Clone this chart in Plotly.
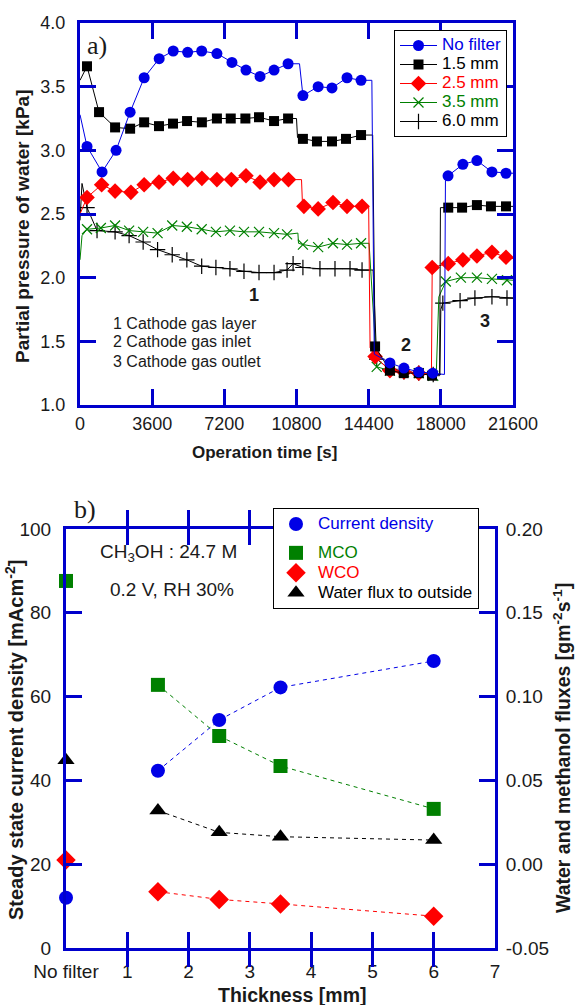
import plotly.graph_objects as go

# ---------------- Panel a) data ----------------
nf_t = [350, 1100, 1800, 2500, 3200, 3950, 4650, 5370, 6070, 6830, 7580, 8280, 8980, 9680, 10380,
        11120, 11880, 12570, 13320, 14020, 15460, 16160, 16900, 17600, 18360, 19100, 19800, 20550, 21250]
nf_p = [3.03, 2.83, 3.00, 3.30, 3.57, 3.72, 3.78, 3.77, 3.78, 3.76, 3.69, 3.63, 3.58, 3.63, 3.68,
        3.43, 3.50, 3.49, 3.57, 3.55, 1.33, 1.29, 1.26, 1.25, 2.80, 2.89, 2.92, 2.83, 2.82]
nf_vt = [0, 10950, 14560, 14680, 18180, 18230, 21600]
nf_vp = [3.28, 3.68, 3.55, 1.40, 1.24, 2.76, 2.82]

f15_t = [350, 950, 1750, 2500, 3200, 3940, 4640, 5340, 6080, 6830, 7520, 8250, 8930, 9680, 10380,
         11120, 11820, 12570, 13270, 14020, 14720, 15460, 16150, 16900, 17560, 18370, 19060, 19800, 20500, 21250]
f15_p = [3.66, 3.30, 3.18, 3.17, 3.22, 3.19, 3.21, 3.23, 3.22, 3.25, 3.25, 3.25, 3.26, 3.23, 3.25,
         3.09, 3.07, 3.07, 3.09, 3.12, 1.46, 1.27, 1.25, 1.25, 1.23, 2.55, 2.55, 2.57, 2.56, 2.56]
f15_vt = [0, 10800, 10850, 14600, 17940, 17980, 21600]
f15_vp = [3.55, 3.25, 3.10, 3.12, 1.23, 2.55, 2.56]

f25_t = [350, 1080, 1750, 2540, 3200, 3940, 4650, 5370, 6080, 6830, 7550, 8280, 8980, 9680, 10400,
         11170, 11880, 12620, 13320, 14070, 14720, 15460, 16160, 16900, 17570, 18370, 19100, 19800, 20550, 21250]
f25_p = [2.63, 2.73, 2.68, 2.67, 2.73, 2.75, 2.78, 2.77, 2.78, 2.77, 2.77, 2.80, 2.75, 2.77, 2.77,
         2.56, 2.54, 2.59, 2.56, 2.56, 1.38, 1.27, 1.26, 1.25, 2.08, 2.11, 2.14, 2.17, 2.20, 2.16]
f25_vt = [0, 11050, 11100, 14400, 14470, 17530, 21600]
f25_vp = [2.50, 2.77, 2.57, 2.56, 1.45, 1.24, 2.15]

f35_t = [350, 1040, 1750, 2450, 3150, 3870, 4600, 5330, 6070, 6780, 7480, 8180, 8930, 9680, 10330,
         11120, 11880, 12620, 13320, 14020, 14800, 15460, 16160, 16900, 17620, 18250, 19000, 19800, 20550, 21300]
f35_p = [2.38, 2.39, 2.41, 2.37, 2.36, 2.35, 2.41, 2.40, 2.38, 2.36, 2.37, 2.36, 2.36, 2.35, 2.34,
         2.26, 2.24, 2.27, 2.26, 2.27, 1.30, 1.27, 1.26, 1.25, 1.23, 1.97, 2.00, 2.00, 1.99, 1.98]
f35_vt = [0, 100, 10870, 10900, 14420, 17780, 17900, 21600]
f35_vp = [2.14, 2.33, 2.35, 2.27, 2.27, 1.28, 1.85, 1.98]

f60_t = [350, 850, 1750, 2450, 3150, 3870, 4600, 5330, 6070, 6780, 7480, 8180, 8930, 9680, 10330,
         10630, 11120, 11970, 12720, 13470, 14070, 14800, 15460, 16160, 16900, 17620, 18100, 18960, 19700, 20550, 21300]
f60_p = [2.55, 2.37, 2.36, 2.33, 2.28, 2.22, 2.18, 2.14, 2.09, 2.08, 2.07, 2.05, 2.04, 2.04, 2.06,
         2.11, 2.08, 2.07, 2.07, 2.07, 2.06, 1.36, 1.28, 1.26, 1.25, 1.24, 1.80, 1.82, 1.84, 1.85, 1.84]
f60_vt = [0, 100, 14620, 17950, 18000, 21600]
f60_vp = [2.45, 2.74, 2.06, 1.24, 1.75, 1.84]

series_names = ["No filter", "1.5 mm", "2.5 mm", "3.5 mm", "6.0 mm"]
time_ticks = [0, 3600, 7200, 10800, 14400, 18000, 21600]
pressure_ticks = [1.0, 1.5, 2.0, 2.5, 3.0, 3.5, 4.0]

# ---------------- Panel b) data ----------------
thick = [0, 1.5, 2.5, 3.5, 6]
current_density = [12.0, 42.3, 54.4, 62.2, 68.5]
mco = [0.169, 0.107, 0.0765, 0.0586, 0.033]
wco = [0.0025, -0.0164, -0.021, -0.0237, -0.031]
water_flux = [0.062, 0.032, 0.019, 0.0164, 0.0144]
thick_ticks = [0, 1, 2, 3, 4, 5, 6, 7]
thick_labels = ["No filter", "1", "2", "3", "4", "5", "6", "7"]
cd_ticks = [0, 20, 40, 60, 80, 100]
flux_ticks = [-0.05, 0.0, 0.05, 0.10, 0.15, 0.20]

# ---------------- styling ----------------
W, H = 577, 1005
AX = "#0000CC"
BLUE = "#0000E6"
RED = "#FF0000"
GREEN = "#008000"
BLACK = "#000000"
FONT = "Liberation Sans, Arial, sans-serif"
TXT = "#1a1a1a"

def px_x(p):
    return p / W

def px_y(p):
    return 1 - p / H

fig = go.Figure()

styles = [
    (nf_t, nf_p, nf_vt, nf_vp, BLUE, dict(symbol="circle", size=11, color=BLUE)),
    (f15_t, f15_p, f15_vt, f15_vp, BLACK, dict(symbol="square", size=10, color=BLACK)),
    (f25_t, f25_p, f25_vt, f25_vp, RED, dict(symbol="diamond", size=12, color=RED)),
    (f35_t, f35_p, f35_vt, f35_vp, GREEN, dict(symbol="x-thin", size=10, color=GREEN, line=dict(color=GREEN, width=1.2))),
    (f60_t, f60_p, f60_vt, f60_vp, BLACK, dict(symbol="cross-thin", size=11, color=BLACK, line=dict(color=BLACK, width=1.2))),
]

for i in reversed(range(len(styles))):
    t, p, vt, vp, col, mk = styles[i]
    pts = sorted(list(zip(t, p)) + list(zip(vt, vp)))
    fig.add_trace(go.Scatter(x=[a for a, b in pts], y=[b for a, b in pts], mode="lines",
                             line=dict(color=col, width=1), showlegend=False, hoverinfo="skip",
                             xaxis="x", yaxis="y"))
    fig.add_trace(go.Scatter(x=t, y=p, mode="markers", marker=mk, showlegend=False,
                             cliponaxis=False, xaxis="x", yaxis="y"))

for i, (t, p, vt, vp, col, mk) in enumerate(styles):
    fig.add_trace(go.Scatter(x=[None], y=[None], mode="lines+markers",
                             name=f"<span style='color:{col};font-size:17px'>{series_names[i]}</span>",
                             line=dict(color=col, width=1), marker=mk, legend="legend",
                             xaxis="x", yaxis="y"))

def dashed(x, y, col, yax):
    fig.add_trace(go.Scatter(x=x, y=y, mode="lines", line=dict(color=col, width=1, dash="4px,4px"),
                             showlegend=False, hoverinfo="skip", xaxis="x2", yaxis=yax))

dashed(thick[1:], current_density[1:], BLUE, "y2")
dashed(thick[1:], mco[1:], GREEN, "y3")
dashed(thick[1:], wco[1:], RED, "y3")
dashed(thick[1:], water_flux[1:], BLACK, "y3")

def lname(text, col):
    return f"<span style='color:{col};font-size:17px'>{text}</span>"

fig.add_trace(go.Scatter(x=thick, y=current_density, mode="markers", cliponaxis=False,
                         marker=dict(symbol="circle", size=14, color=BLUE),
                         name=lname("Current density", BLUE),
                         legend="legend2", legendgroup="g1", xaxis="x2", yaxis="y2"))
fig.add_trace(go.Scatter(x=thick, y=mco, mode="markers", cliponaxis=False,
                         marker=dict(symbol="square", size=14, color=GREEN),
                         name=lname("MCO", GREEN),
                         legend="legend2", legendgroup="g2", xaxis="x2", yaxis="y3"))
fig.add_trace(go.Scatter(x=thick, y=wco, mode="markers", cliponaxis=False,
                         marker=dict(symbol="diamond", size=15, color=RED),
                         name=lname("WCO", RED),
                         legend="legend2", legendgroup="g2", xaxis="x2", yaxis="y3"))
fig.add_trace(go.Scatter(x=thick, y=water_flux, mode="markers", cliponaxis=False,
                         marker=dict(symbol="triangle-up", size=15, color=BLACK),
                         name=lname("Water flux to outside", "#000"),
                         legend="legend2", legendgroup="g2", xaxis="x2", yaxis="y3"))

def axis_style(fsize):
    return dict(showline=True, linecolor=AX, linewidth=3, ticks="inside", tickcolor=AX,
                tickwidth=3, ticklen=16, showgrid=False, zeroline=False, automargin=False,
                tickfont=dict(family=FONT, size=fsize, color=TXT))

fig.update_layout(
    template="none",
    width=W, height=H, margin=dict(l=0, r=0, t=0, b=0, pad=0, autoexpand=False),
    paper_bgcolor="white", plot_bgcolor="white",
    font=dict(family=FONT, color=TXT),
    xaxis=dict(domain=[px_x(80), px_x(513)], anchor="y", range=[0, 21600], tickvals=time_ticks,
               ticktext=[str(v) for v in time_ticks], mirror="allticks", **axis_style(18)),
    yaxis=dict(domain=[px_y(405), px_y(23)], anchor="x", range=[1.0, 4.0], tickvals=pressure_ticks,
               ticktext=[f"{v:.1f}" for v in pressure_ticks], mirror="allticks", ticklabelstandoff=8,
               **axis_style(18)),
    xaxis2=dict(domain=[px_x(66), px_x(495)], anchor="y2", range=[0, 7], tickvals=thick_ticks,
                ticktext=thick_labels, mirror="allticks", ticklabelstandoff=4, **axis_style(19)),
    yaxis2=dict(domain=[px_y(948), px_y(529)], anchor="x2", range=[0, 100], tickvals=cd_ticks,
                ticktext=[str(v) for v in cd_ticks], ticklabelstandoff=8, **axis_style(19)),
    yaxis3=dict(anchor="x2", overlaying="y2", side="right", range=[-0.05, 0.20],
                tickvals=flux_ticks, ticktext=[f"{v:.2f}" for v in flux_ticks],
                ticklabelstandoff=4, **axis_style(19)),
    legend=dict(x=px_x(394), y=px_y(30), xanchor="left", yanchor="top", bgcolor="white",
                bordercolor="black", borderwidth=1, font=dict(family=FONT, size=12),
                itemwidth=37, tracegroupgap=0),
    legend2=dict(x=px_x(273), y=px_y(508), xanchor="left", yanchor="top", bgcolor="white",
                 bordercolor="black", borderwidth=1, font=dict(family=FONT, size=13),
                 traceorder="grouped", tracegroupgap=9, itemwidth=34),
    showlegend=True,
)

ann = []
def add_text(text, x, y, size=15, bold=False, family=FONT, angle=0, xanchor="center", color=TXT):
    if bold:
        text = f"<b>{text}</b>"
    ann.append(dict(text=text, x=px_x(x), y=px_y(y), xref="paper", yref="paper",
                    xanchor=xanchor, yanchor="middle", showarrow=False, textangle=angle,
                    font=dict(family=family, size=size, color=color)))

SERIF = "Liberation Serif, Times New Roman, serif"
add_text("a)", 97, 46, size=26, family=SERIF)
add_text("b)", 85, 509, size=26, family=SERIF)
add_text("1", 254, 295, size=18, bold=True)
add_text("2", 406, 345, size=18, bold=True)
add_text("3", 485, 321, size=18, bold=True)
add_text("1 Cathode gas layer", 111, 323, size=16, xanchor="left")
add_text("2 Cathode gas inlet", 111, 342, size=16, xanchor="left")
add_text("3 Cathode gas outlet", 111, 361, size=16, xanchor="left")
add_text("CH<sub>3</sub>OH : 24.7 M", 168, 553, size=19)
add_text("0.2 V, RH 30%", 172, 589, size=19)
add_text("Operation time [s]", 264, 452, size=17, bold=True)
add_text("Partial pressure of water [kPa]", 23, 226, size=19, bold=True, angle=-90)
add_text("Thickness [mm]", 292, 995, size=19.5, bold=True)
add_text("Steady state current density [mAcm<sup>-2</sup>]", 14, 740, size=20, bold=True, angle=-90)
add_text("Water and methanol fluxes [gm<sup>-2</sup>s<sup>-1</sup>]", 562, 748, size=19.5, bold=True, angle=-90)
fig.update_layout(annotations=ann)

fig.write_html("out.html", config={"displayModeBar": False},
               post_script="document.body.style.margin='0';document.body.style.overflow='hidden';")
